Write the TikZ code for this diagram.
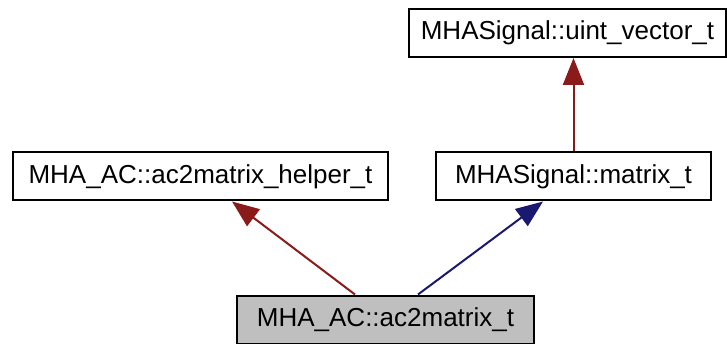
\documentclass[tikz,border=0pt]{standalone}
\usepackage{fontspec}
\setmainfont{Liberation Sans}
\usetikzlibrary{positioning, calc, arrows.meta}
\definecolor{Edge}{HTML}{8B1A1A}
\definecolor{Public}{HTML}{191970}
\definecolor{Base}{HTML}{BFBFBF}
\tikzset{
    classbox/.style={rectangle, draw=black, line width=2pt, fill=white, minimum height=48pt,
                     inner xsep=0pt, inner ysep=0pt, font=\fontsize{26}{30}\selectfont},
    rootbox/.style={classbox, fill=Base},
    inherit/.style={-{Triangle[length=27pt, width=21pt]}, line width=2pt, color=Edge},
    pubinherit/.style={inherit, color=Public},
}
\begin{document}
\begin{tikzpicture}[x=1pt, y=-1pt]
    \useasboundingbox (0,0) rectangle (727,344);

    % --- classi ---
    \node[classbox, minimum width=317pt] (uint) at (567.5, 33) {MHASignal::uint\_vector\_t};
    \node[classbox, minimum width=375pt] (helper) at (200.5, 176.5) {MHA\_AC::ac2matrix\_helper\_t};
    \node[classbox, minimum width=275pt] (matrix) at (573.5, 176.5) {MHASignal::matrix\_t};
    \node[rootbox, minimum width=297pt] (ac2m) at (385.5, 319.5) {MHA\_AC::ac2matrix\_t};

    % --- ereditarietà ---
    \draw[inherit] (matrix.north) -- (matrix.north |- uint.south);
    \draw[inherit] ([xshift=-30.5pt]ac2m.north) -- ([xshift=31.5pt]helper.south);
    \draw[pubinherit] ([xshift=32.5pt]ac2m.north) -- ([xshift=-30.5pt]matrix.south);
\end{tikzpicture}
\end{document}
